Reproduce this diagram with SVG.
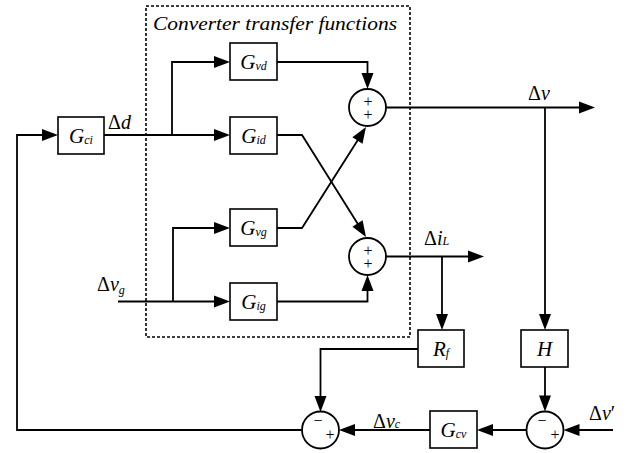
<svg xmlns="http://www.w3.org/2000/svg" width="632" height="453" viewBox="0 0 632 453">
<rect x="146" y="6" width="264" height="331" fill="none" stroke="#000" stroke-width="1.6" stroke-dasharray="3,2"/>
<g id="connectors">
<g fill="none" stroke="#000" stroke-width="1.8">
<path d="M301.5,430 H17 V135 H50"/>
<path d="M104,135 H222"/>
<path d="M172,135 V62 H222"/>
<path d="M277,62 H367.5 V81"/>
<path d="M277,135 H302 L361,229"/>
<path d="M277,228 H302 L361,135"/>
<path d="M277,301.5 H367.5 V283"/>
<path d="M118,301.5 H222"/>
<path d="M173,301.5 V228 H222"/>
<path d="M386,107.5 H587"/>
<path d="M545,107.5 V322"/>
<path d="M386,256.5 H476"/>
<path d="M442,256.5 V322"/>
<path d="M418,349 H320.5 V404"/>
<path d="M545,367 V403"/>
<path d="M613,430 H571"/>
<path d="M526.5,430 H485"/>
<path d="M430,430 H347"/>
</g>
<g fill="#000">
<polygon points="42,129 58,135 42,141"/>
<polygon points="214,129 230,135 214,141"/>
<polygon points="214,56 230,62 214,68"/>
<polygon points="361.5,73 367.5,89 373.5,73"/>
<polygon points="352.42,226.63 366,237 362.58,220.25"/>
<polygon points="362.51,143.73 366,127 352.37,137.31"/>
<polygon points="361.5,291 367.5,275 373.5,291"/>
<polygon points="214,295.5 230,301.5 214,307.5"/>
<polygon points="214,222 230,228 214,234"/>
<polygon points="579,101.5 595,107.5 579,113.5"/>
<polygon points="539,314 545,330 551,314"/>
<polygon points="468,250.5 484,256.5 468,262.5"/>
<polygon points="436,314 442,330 448,314"/>
<polygon points="314.5,396 320.5,412 326.5,396"/>
<polygon points="539,395.5 545,411.5 551,395.5"/>
<polygon points="579.5,424 563.5,430 579.5,436"/>
<polygon points="493,424 477,430 493,436"/>
<polygon points="355,424 339,430 355,436"/>
</g>
</g>
<text font-family="Liberation Serif" x="153" y="30" font-size="19" font-style="italic" textLength="244" lengthAdjust="spacingAndGlyphs">Converter transfer functions</text>
<g id="blocks" fill="#fff" stroke="#000" stroke-width="1.6">
<g id="Gci"><rect x="58" y="117" width="46" height="37"/><text font-family="Liberation Serif" font-size="21" font-style="italic" text-anchor="middle" fill="#000" stroke="none" x="81" y="143">G<tspan font-size="12" dy="1">ci</tspan></text></g>
<g id="Gvd"><rect x="230" y="43" width="47" height="37"/><text font-family="Liberation Serif" font-size="21" font-style="italic" text-anchor="middle" fill="#000" stroke="none" x="253.5" y="69">G<tspan font-size="12" dy="1">vd</tspan></text></g>
<g id="Gid"><rect x="230" y="117" width="47" height="37"/><text font-family="Liberation Serif" font-size="21" font-style="italic" text-anchor="middle" fill="#000" stroke="none" x="253.5" y="143">G<tspan font-size="12" dy="1">id</tspan></text></g>
<g id="Gvg"><rect x="230" y="209" width="47" height="37"/><text font-family="Liberation Serif" font-size="21" font-style="italic" text-anchor="middle" fill="#000" stroke="none" x="253.5" y="235">G<tspan font-size="12" dy="1">vg</tspan></text></g>
<g id="Gig"><rect x="230" y="283" width="47" height="37"/><text font-family="Liberation Serif" font-size="21" font-style="italic" text-anchor="middle" fill="#000" stroke="none" x="253.5" y="309">G<tspan font-size="12" dy="1">ig</tspan></text></g>
<g id="Rf"><rect x="418" y="330" width="46" height="37"/><text font-family="Liberation Serif" font-size="21" font-style="italic" text-anchor="middle" fill="#000" stroke="none" x="441" y="356">R<tspan font-size="12" dy="1">f</tspan></text></g>
<g id="H"><rect x="521" y="330" width="47" height="37"/><text font-family="Liberation Serif" font-size="21" font-style="italic" text-anchor="middle" fill="#000" stroke="none" x="544.5" y="356">H</text></g>
<g id="Gcv"><rect x="430" y="411" width="47" height="37"/><text font-family="Liberation Serif" font-size="21" font-style="italic" text-anchor="middle" fill="#000" stroke="none" x="453.5" y="437">G<tspan font-size="12" dy="1">cv</tspan></text></g>
</g>
<g id="sums" fill="#fff" stroke="#000" stroke-width="1.8">
<g id="S1"><circle cx="367.5" cy="107.5" r="18.5"/><text font-family="Liberation Serif" font-size="16" text-anchor="middle" fill="#000" stroke="none" x="368" y="107">+</text><text font-family="Liberation Serif" font-size="16" text-anchor="middle" fill="#000" stroke="none" x="368" y="120">+</text></g>
<g id="S2"><circle cx="367.5" cy="256.5" r="18.5"/><text font-family="Liberation Serif" font-size="16" text-anchor="middle" fill="#000" stroke="none" x="368" y="256">+</text><text font-family="Liberation Serif" font-size="16" text-anchor="middle" fill="#000" stroke="none" x="368" y="269">+</text></g>
<g id="S3"><circle cx="320.5" cy="430" r="18.5"/><text font-family="Liberation Serif" font-size="16" text-anchor="middle" fill="#000" stroke="none" x="318" y="426">−</text><text font-family="Liberation Serif" font-size="16" text-anchor="middle" fill="#000" stroke="none" x="330" y="440">+</text></g>
<g id="S4"><circle cx="545" cy="430" r="18.5"/><text font-family="Liberation Serif" font-size="16" text-anchor="middle" fill="#000" stroke="none" x="542" y="426">−</text><text font-family="Liberation Serif" font-size="16" text-anchor="middle" fill="#000" stroke="none" x="555" y="440">+</text></g>
</g>
<g id="labels" fill="#000">
<text font-family="Liberation Serif" font-size="20" x="108" y="129">Δ<tspan font-style="italic">d</tspan></text>
<text font-family="Liberation Serif" font-size="20" x="528" y="100">Δ<tspan font-style="italic">v</tspan></text>
<text font-family="Liberation Serif" font-size="20" x="424" y="245">Δ<tspan font-style="italic">i</tspan><tspan font-style="italic" font-size="12">L</tspan></text>
<text font-family="Liberation Serif" font-size="20" x="97" y="291">Δ<tspan font-style="italic">v</tspan><tspan font-style="italic" font-size="12" dy="3">g</tspan></text>
<text font-family="Liberation Serif" font-size="20" x="373" y="428">Δ<tspan font-style="italic">v</tspan><tspan font-style="italic" font-size="12">c</tspan></text>
<text font-family="Liberation Serif" font-size="20" x="589" y="420">Δ<tspan font-style="italic">v</tspan>′</text>
</g>
</svg>
